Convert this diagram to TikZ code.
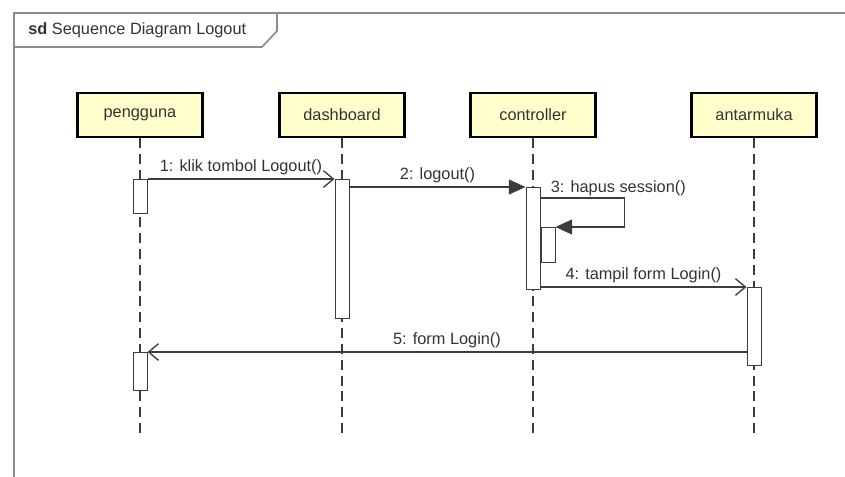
\documentclass[tikz,border=0pt]{standalone}
\usepackage{fontspec}
\setmainfont{Liberation Sans}
\usetikzlibrary{arrows.meta,positioning}

\definecolor{lifefill}{RGB}{255,255,204}
\definecolor{framegray}{RGB}{140,140,140}
\definecolor{msggray}{RGB}{60,60,60}

\tikzset{
  actor/.style={draw=black, line width=1.3pt, fill=lifefill, minimum width=75pt,
    minimum height=26.4pt, inner sep=0pt, font=\fontsize{9.8}{11}\selectfont, text=black!80},
  lifeline/.style={draw=msggray, dash pattern=on 6pt off 3.5pt, line width=0.7pt},
  activation/.style={draw=msggray, fill=white, line width=0.6pt, minimum width=8.4pt,
    inner sep=0pt, anchor=north},
  syncmsg/.style={draw=msggray, line width=0.8pt, -{Triangle[length=10pt,width=9pt]}},
  openmsg/.style={draw=msggray, line width=0.8pt, -{Straight Barb[length=6pt,width=10pt]}},
  msglabel/.style={font=\fontsize{9.8}{11}\selectfont, text=black!80, inner sep=1pt}
}

\begin{document}
\begin{tikzpicture}[x=0.6pt,y=-0.6pt]
  \useasboundingbox (0,0) rectangle (845,476);
  \clip (0,0) rectangle (845,476);

  % frame
  \draw[framegray, line width=1pt] (14,490) -- (14,13) -- (860,13);
  \draw[framegray, line width=1pt] (14,47) -- (262,47) -- (277,31) -- (277,13);
  \node[msglabel, anchor=west, inner sep=0pt] (title) at (28,30)
    {\textbf{sd} Sequence Diagram Logout};

  % lifelines
  \node[actor] (pengguna) at (140,115) {pengguna};
  \node[actor] (dashboard) at (342,115) {dashboard};
  \node[actor] (controller) at (533,115) {controller};
  \node[actor] (antarmuka) at (754,115) {antarmuka};

  \foreach \n in {pengguna,dashboard,controller,antarmuka}
    \draw[lifeline] (\n.south) -- ++(0,295);

  % activations
  \node[activation, minimum height=20.4pt] (penggunaAct) at (pengguna.south |- 0,179) {};
  \node[activation, minimum height=83.4pt] (dashboardAct) at (dashboard.south |- 0,179) {};
  \node[activation, minimum height=61.2pt] (controllerAct) at (controller.south |- 0,187) {};
  \node[activation, anchor=north west, minimum height=21pt] (controllerSub)
    at (controllerAct.east |- 0,227) {};
  \node[activation, minimum height=46.8pt] (antarmukaAct) at (antarmuka.south |- 0,287) {};
  \node[activation, minimum height=22.8pt] (penggunaAct2) at (pengguna.south |- 0,352) {};

  % messages
  \draw[openmsg] (penggunaAct.north east) -- (dashboardAct.north west)
    node[msglabel, midway, above=1pt] {1: klik tombol Logout()};
  \draw[syncmsg] (dashboardAct.east |- controllerAct.north) -- (controllerAct.north west)
    node[msglabel, midway, above=1pt] {2: logout()};
  \draw[syncmsg] (controllerAct.east |- 0,198) coordinate (selfStart)
    -- ++(84,0) |- (controllerSub.north east);
  \node[msglabel, anchor=south west] at ([xshift=5pt]selfStart) {3: hapus session()};
  \draw[openmsg] (controllerAct.east |- antarmukaAct.north) -- (antarmukaAct.north west)
    node[msglabel, midway, above=1pt] {4: tampil form Login()};
  \draw[openmsg] (antarmukaAct.west |- penggunaAct2.north) -- (penggunaAct2.north east)
    node[msglabel, midway, above=1pt] {5: form Login()};
\end{tikzpicture}
\end{document}
